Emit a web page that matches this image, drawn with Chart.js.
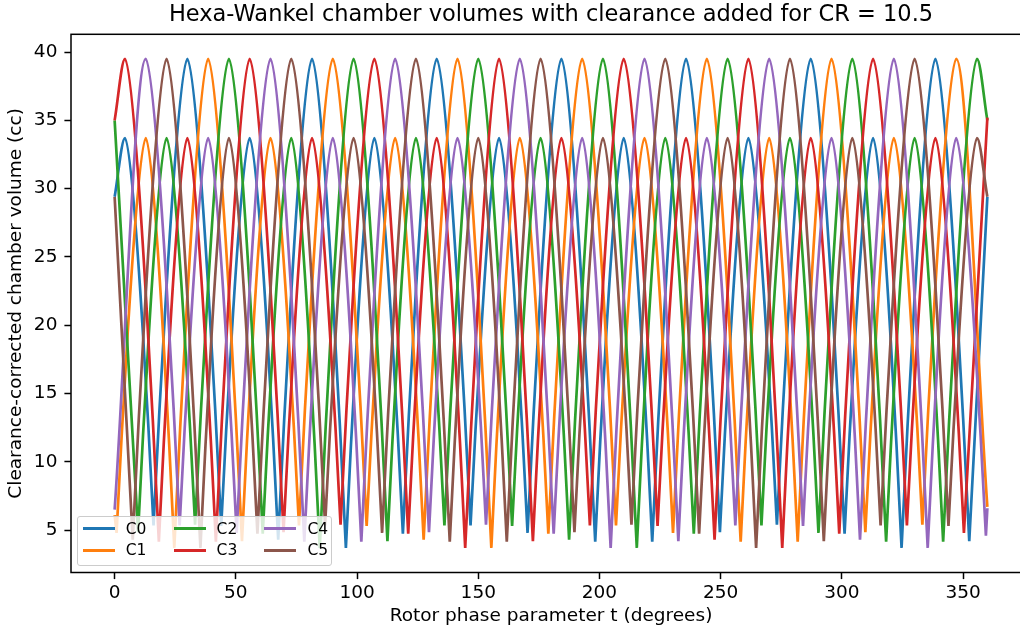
<!DOCTYPE html>
<html lang="en">
<head>
    <meta charset="UTF-8">
    <title>Hexa-Wankel chamber volumes</title>
    <script src="https://cdn.jsdelivr.net/npm/chart.js"></script>
    <style>
        html, body {
            margin: 0;
            padding: 0;
            background: #fff;
            overflow: hidden;
        }
        .chart-wrap {
            position: relative;
            width: 1031px;
            height: 632px;
        }
        .legend-box {
            position: absolute;
            left: 77px;
            top: 516px;
            width: 255px;
            height: 50px;
            box-sizing: border-box;
            border: 1.5px solid #cccccc;
            border-radius: 3px;
            background: rgba(255, 255, 255, 0.8);
            font-family: 'DejaVu Sans', sans-serif;
            font-size: 15.5px;
            color: #000;
        }
        .legend-item {
            position: absolute;
            height: 20px;
            line-height: 20px;
        }
        .legend-item .swatch {
            position: absolute;
            left: 0;
            top: 8.65px;
            width: 32px;
            height: 2.7px;
        }
        .legend-item .label {
            position: absolute;
            left: 43px;
            top: 0;
            white-space: nowrap;
        }
    </style>
</head>
<body>
    <div class="chart-wrap">
        <canvas id="chamberChart"></canvas>
        <div class="legend-box" id="legend"></div>
    </div>

    <script>
        // Peaks and troughs (t in degrees, volume in cc)
        const c0T = [0, 4.29, 16.04, 30.0, 43.96, 55.71, 67.47, 81.43, 95.39, 107.14, 118.9, 132.86, 146.81, 158.57, 170.33, 184.29, 198.24, 210.0, 221.76, 235.71, 249.67, 261.43, 273.19, 287.14, 301.1, 312.86, 324.61, 338.57, 352.53, 360];
        const c0V = [29.4, 33.7, 5.35, 39.5, 5.3, 33.7, 4.3, 39.5, 3.7, 33.7, 4.75, 39.5, 5.35, 33.7, 4.8, 39.5, 4.15, 33.7, 4.15, 39.5, 4.85, 33.7, 5.4, 39.5, 4.75, 33.7, 3.7, 39.5, 4.2, 29.4];

        const c1T = [0, 0.8, 12.86, 24.61, 38.57, 52.53, 64.29, 76.04, 90.0, 103.96, 115.71, 127.47, 141.43, 155.39, 167.14, 178.9, 192.86, 206.81, 218.57, 230.33, 244.29, 258.24, 270.0, 281.76, 295.71, 309.67, 321.43, 333.19, 347.14, 360];
        const c1V = [6.1, 4.8, 33.7, 3.7, 39.5, 4.2, 33.7, 5.35, 39.5, 5.3, 33.7, 4.3, 39.5, 3.7, 33.7, 4.75, 39.5, 5.35, 33.7, 4.8, 39.5, 4.15, 33.7, 4.15, 39.5, 4.85, 33.7, 5.4, 39.5, 6.7];

        const c2T = [0, 9.67, 21.43, 33.19, 47.14, 61.1, 72.86, 84.61, 98.57, 112.53, 124.29, 136.04, 150.0, 163.96, 175.71, 187.47, 201.43, 215.39, 227.14, 238.9, 252.86, 266.81, 278.57, 290.33, 304.29, 318.24, 330.0, 341.76, 355.71, 360];
        const c2V = [35.0, 4.85, 33.7, 5.4, 39.5, 4.75, 33.7, 3.7, 39.5, 4.2, 33.7, 5.35, 39.5, 5.3, 33.7, 4.3, 39.5, 3.7, 33.7, 4.75, 39.5, 5.35, 33.7, 4.8, 39.5, 4.15, 33.7, 4.15, 39.5, 35.0];

        const c3T = [0, 4.29, 18.24, 30.0, 41.76, 55.71, 69.67, 81.43, 93.19, 107.14, 121.1, 132.86, 144.61, 158.57, 172.53, 184.29, 196.04, 210.0, 223.96, 235.71, 247.47, 261.43, 275.39, 287.14, 298.9, 312.86, 326.81, 338.57, 350.33, 360];
        const c3V = [35.0, 39.5, 4.15, 33.7, 4.15, 39.5, 4.85, 33.7, 5.4, 39.5, 4.75, 33.7, 3.7, 39.5, 4.2, 33.7, 5.35, 39.5, 5.3, 33.7, 4.3, 39.5, 3.7, 33.7, 4.75, 39.5, 5.35, 33.7, 4.8, 35.2];

        const c4T = [0, 12.86, 26.81, 38.57, 50.33, 64.29, 78.24, 90.0, 101.76, 115.71, 129.67, 141.43, 153.19, 167.14, 181.1, 192.86, 204.61, 218.57, 232.53, 244.29, 256.04, 270.0, 283.96, 295.71, 307.47, 321.43, 335.39, 347.14, 359.4, 360];
        const c4V = [6.5, 39.5, 5.35, 33.7, 4.8, 39.5, 4.15, 33.7, 4.15, 39.5, 4.85, 33.7, 5.4, 39.5, 4.75, 33.7, 3.7, 39.5, 4.2, 33.7, 5.35, 39.5, 5.3, 33.7, 4.3, 39.5, 3.7, 33.7, 4.6, 6.6];

        const c5T = [0, 7.47, 21.43, 35.39, 47.14, 58.9, 72.86, 86.81, 98.57, 110.33, 124.29, 138.24, 150.0, 161.76, 175.71, 189.67, 201.43, 213.19, 227.14, 241.1, 252.86, 264.61, 278.57, 292.53, 304.29, 315.96, 330.0, 343.96, 355.71, 360];
        const c5V = [29.4, 4.3, 39.5, 3.7, 33.7, 4.75, 39.5, 5.35, 33.7, 4.8, 39.5, 4.15, 33.7, 4.15, 39.5, 4.85, 33.7, 5.4, 39.5, 4.75, 33.7, 3.7, 39.5, 4.2, 33.7, 5.35, 39.5, 5.3, 33.7, 29.4];

        const seriesNames = ['C0', 'C1', 'C2', 'C3', 'C4', 'C5'];
        const xTicks = [0, 50, 100, 150, 200, 250, 300, 350];
        const yTicks = [5, 10, 15, 20, 25, 30, 35, 40];

        const chartTitle = 'Hexa-Wankel chamber volumes with clearance added for CR = 10.5';
        const xLabel = 'Rotor phase parameter t (degrees)';
        const yLabel = 'Clearance-corrected chamber volume (cc)';

        const colors = ['#1f77b4', '#ff7f0e', '#2ca02c', '#d62728', '#9467bd', '#8c564b'];
        const allT = [c0T, c1T, c2T, c3T, c4T, c5T];
        const allV = [c0V, c1V, c2V, c3V, c4V, c5V];

        const datasets = seriesNames.map((name, i) => ({
            label: name,
            data: allT[i].map((t, k) => ({ x: t, y: allV[i][k] })),
            borderColor: colors[i],
            backgroundColor: colors[i],
            borderWidth: 2.7,
            pointRadius: 0,
            cubicInterpolationMode: 'monotone',
            order: seriesNames.length - i   // later series drawn on top, like matplotlib
        }));

        // Troughs are sharp cusps in the reference: drop the curve handles there
        const sharpTroughs = {
            id: 'sharpTroughs',
            beforeDatasetDraw(chart, args) {
                const meta = args.meta;
                meta.dataset.updateControlPoints(chart.chartArea, meta.iScale.axis);
                const pts = meta.data;
                const vals = chart.data.datasets[args.index].data;
                for (let i = 1; i < pts.length - 1; i++) {
                    if (vals[i].y < vals[i - 1].y && vals[i].y < vals[i + 1].y) {
                        pts[i].cp1x = pts[i].cp2x = pts[i].x;
                        pts[i].cp1y = pts[i].cp2y = pts[i].y;
                    }
                }
            }
        };

        // Axes frame (all four spines)
        const frame = {
            id: 'frame',
            afterDatasetsDraw(chart) {
                const { ctx, chartArea: a } = chart;
                ctx.save();
                ctx.strokeStyle = '#000';
                ctx.lineWidth = 1.5;
                ctx.strokeRect(a.left, a.top, a.right - a.left, a.bottom - a.top);
                ctx.restore();
            }
        };

        Chart.defaults.font.family = "'DejaVu Sans', sans-serif";
        Chart.defaults.color = '#000';

        const tickGrid = { drawOnChartArea: false, drawTicks: true, tickLength: 6.6, tickColor: '#000', tickWidth: 1.5 };

        new Chart(document.getElementById('chamberChart'), {
            type: 'line',
            data: { datasets: datasets },
            options: {
                responsive: true,
                maintainAspectRatio: false,
                animation: false,
                layout: { padding: 0 },
                plugins: {
                    legend: { display: false },
                    tooltip: { enabled: false },
                    title: {
                        display: true,
                        text: chartTitle,
                        fullSize: false,
                        color: '#000',
                        font: { size: 22.5, weight: 'normal' },
                        padding: { top: 2, bottom: 5.3 }
                    }
                },
                scales: {
                    x: {
                        type: 'linear',
                        min: -18,
                        max: 378,
                        afterFit: s => { s.height = 59.5; },
                        afterBuildTicks: s => { s.ticks = xTicks.map(v => ({ value: v })); },
                        ticks: { font: { size: 18.5 }, padding: 3, autoSkip: false, maxRotation: 0 },
                        grid: tickGrid,
                        border: { display: false },
                        title: { display: true, text: xLabel, font: { size: 18.5 }, padding: { top: 0, bottom: 4.4 } }
                    },
                    y: {
                        min: 1.9,
                        max: 41.3,
                        afterFit: s => { s.width = 71; },
                        afterBuildTicks: s => { s.ticks = yTicks.map(v => ({ value: v })); },
                        ticks: { font: { size: 18.5 }, padding: 7, autoSkip: false },
                        grid: tickGrid,
                        border: { display: false },
                        title: { display: true, text: yLabel, font: { size: 18.5 }, padding: { top: 5.5, bottom: 0 } }
                    }
                }
            },
            plugins: [sharpTroughs, frame]
        });

        // Legend inside the axes, matplotlib style (3 columns, filled column by column)
        const legendBox = document.getElementById('legend');
        seriesNames.forEach((name, i) => {
            const col = Math.floor(i / 2);
            const row = i % 2;
            const item = document.createElement('div');
            item.className = 'legend-item';
            item.style.left = (4.8 + col * 90.8) + 'px';
            item.style.top = (1.5 + row * 21.7) + 'px';
            item.innerHTML = '<span class="swatch" style="background:' + colors[i] + '"></span><span class="label">' + name + '</span>';
            legendBox.appendChild(item);
        });
    </script>
</body>
</html>
